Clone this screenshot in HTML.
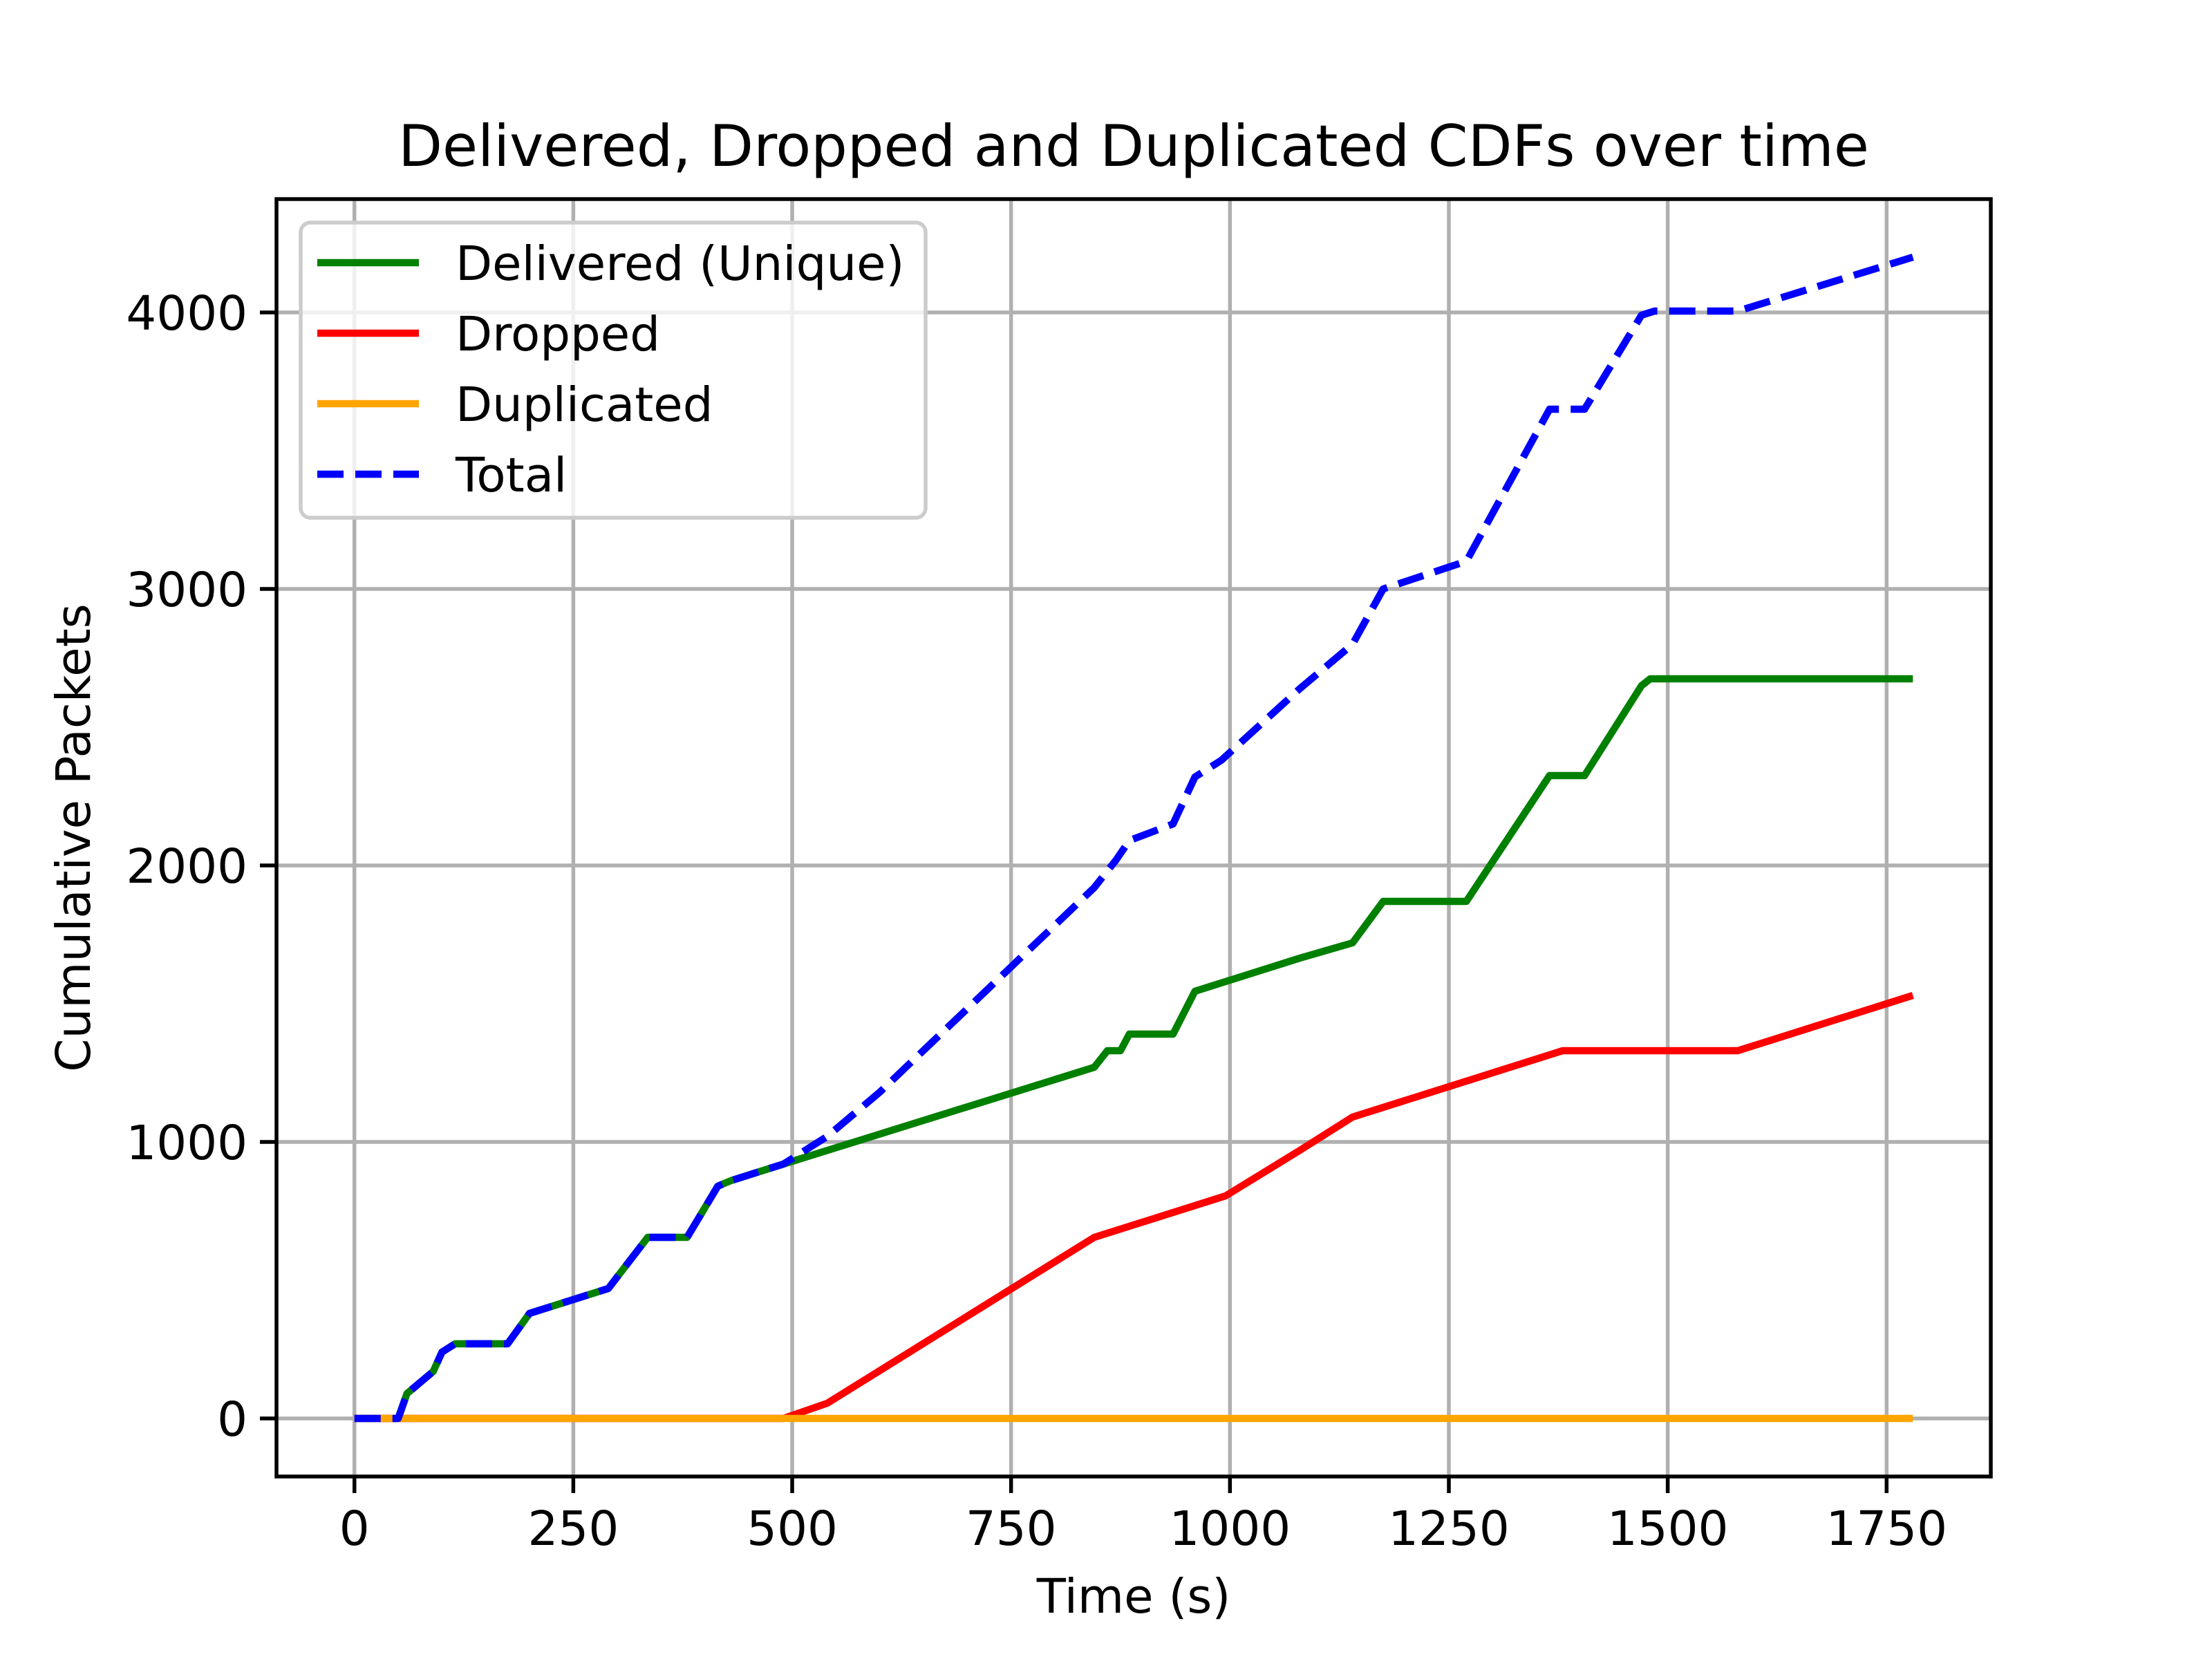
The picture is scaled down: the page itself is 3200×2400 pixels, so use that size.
<!DOCTYPE html>
<html><head><meta charset="utf-8"><style>html,body{margin:0;padding:0;background:#fff}svg{display:block}text{font-family:"DejaVu Sans","Liberation Sans",sans-serif;fill:#000}</style></head>
<body>
<svg id="chart" width="3200" height="2400" viewBox="0 0 3200 2400" xmlns="http://www.w3.org/2000/svg">
<rect width="3200" height="2400" fill="#fff"/>
<g id="grid"></g>
<g id="series"></g>
<rect x="400" y="288" width="2480" height="1848" fill="none" stroke="#000" stroke-width="5.5"/>
<g id="ticks"></g>
<text x="1640" y="240" font-size="83" text-anchor="middle">Delivered, Dropped and Duplicated CDFs over time</text>
<text x="1640" y="2333" font-size="69" text-anchor="middle">Time (s)</text>
<text transform="translate(130,1212) rotate(-90)" font-size="69" text-anchor="middle">Cumulative Packets</text>
<g id="legend"></g>
</svg>
<script>
const xTicks=[0,250,500,750,1000,1250,1500,1750];
const yTicks=[0,1000,2000,3000,4000];
const totalX=[0,50,60,75,90,100,115,175,200,290,335,380,415,430,490,540,600,845,870,885,935,960,990,1080,1140,1175,1270,1365,1405,1470,1485,1580,1780];
const totalY=[0,0,90,130,170,240,270,270,380,470,655,655,840,860,920,1020,1180,1920,2020,2090,2150,2320,2380,2640,2800,3000,3100,3650,3650,3990,4005,4005,4200];
const delivX=[0,50,60,75,90,100,115,175,200,290,335,380,415,430,490,845,860,875,885,935,960,1080,1140,1175,1270,1365,1405,1470,1480,1780];
const delivY=[0,0,90,130,170,240,270,270,380,470,655,655,840,860,920,1270,1330,1330,1390,1390,1545,1665,1720,1870,1870,2325,2325,2650,2675,2675];
const dropX=[0,490,540,845,995,1080,1140,1380,1580,1780];
const dropY=[0,0,55,655,805,970,1090,1330,1330,1530];
const dupX=[0,1780];
const dupY=[0,0];
const X0=-89,X1=1869,Y0=-210,Y1=4410;
const L=400,R=2880,T=288,B=2136;
const sx=v=>L+(v-X0)/(X1-X0)*(R-L);
const sy=v=>B-(v-Y0)/(Y1-Y0)*(B-T);
const NS="http://www.w3.org/2000/svg";
function mk(p,tag,a){const e=document.createElementNS(NS,tag);for(const k in a)e.setAttribute(k,a[k]);p.appendChild(e);return e;}
const grid=document.getElementById('grid'),ticks=document.getElementById('ticks'),ser=document.getElementById('series'),leg=document.getElementById('legend');
xTicks.forEach(v=>{const x=sx(v);
 const g=mk(grid,'line',{x1:x,x2:x,y1:T,y2:B,stroke:'#b0b0b0','stroke-width':5.5});
 
 const t=mk(ticks,'line',{x1:x,x2:x,y1:B,y2:B+24,stroke:'#000','stroke-width':5.5});
 
 const l=mk(ticks,'text',{x:x,y:2235,'font-size':69,'text-anchor':'middle'});l.textContent=v;
 });
yTicks.forEach(v=>{const y=sy(v);
 const g=mk(grid,'line',{x1:L,x2:R,y1:y,y2:y,stroke:'#b0b0b0','stroke-width':5.5});
 
 const t=mk(ticks,'line',{x1:L-24,x2:L,y1:y,y2:y,stroke:'#000','stroke-width':5.5});
 
 const l=mk(ticks,'text',{x:L-42,y:y+25,'font-size':69,'text-anchor':'end'});l.textContent=v;
 });
function line(xs,ys,color,name,dash){
 const p=mk(ser,'polyline',{points:xs.map((x,i)=>sx(x)+','+sy(ys[i])).join(' '),fill:'none',stroke:color,'stroke-width':10.4,'stroke-linejoin':'round'});
 if(dash)p.setAttribute('stroke-dasharray',dash);
 }
line(delivX,delivY,'#008000','delivered-line');
line(dropX,dropY,'#ff0000','dropped-line');
line(dupX,dupY,'#ffa500','duplicated-line');
line(totalX,totalY,'#0000ff','total-line','38 17');
const box=mk(leg,'rect',{x:435,y:322,width:904,height:427,rx:14,fill:'#fff','fill-opacity':0.8,stroke:'#cccccc','stroke-width':5.5});

const entries=[['Delivered (Unique)','#008000',null],['Dropped','#ff0000',null],['Duplicated','#ffa500',null],['Total','#0000ff','38 17']];
entries.forEach((e,i)=>{const y=380+i*102;
 const h=mk(leg,'line',{x1:459,x2:606,y1:y,y2:y,stroke:e[1],'stroke-width':10.4});
 if(e[2])h.setAttribute('stroke-dasharray',e[2]);
 
 const t=mk(leg,'text',{x:659,y:y+25,'font-size':69});t.textContent=e[0];
 });
</script>
</body></html>
